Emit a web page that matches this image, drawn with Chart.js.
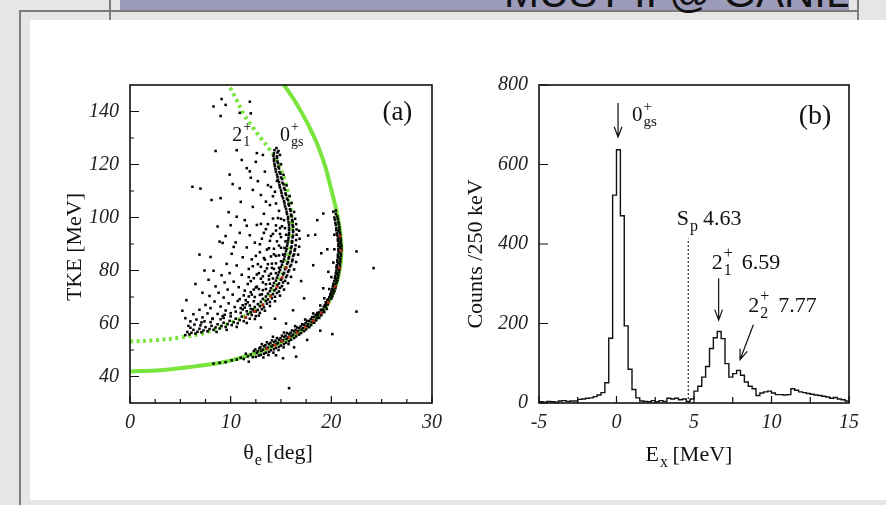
<!DOCTYPE html>
<html>
<head>
<meta charset="utf-8">
<script src="https://cdn.jsdelivr.net/npm/chart.js@4.4.0/dist/chart.umd.min.js"></script>
<style>
  body { margin: 0; width: 886px; height: 505px; overflow: hidden; position: relative; background: #e6e6e6; }
  .bar { position: absolute; left: 120px; top: 0; width: 729px; height: 10px; background: #9c9cba; }
  .heading { position: absolute; left: 504px; top: -28px; font: 42px/42px "Liberation Sans", Arial, sans-serif; color: #111; white-space: nowrap; }
  .rule { position: absolute; background: #7d7d7d; }
  .sheet { position: absolute; left: 30px; top: 20px; width: 856px; height: 480px; background: #fff; }
  canvas { position: absolute; top: 60px; }
  #panelA { left: 30px; }
  #panelB { left: 450px; }
</style>
</head>
<body>
<div class="bar"></div>
<div class="rule" style="left:19px;top:10px;width:840px;height:2px"></div>
<div class="rule" style="left:19px;top:10px;width:2px;height:495px"></div>
<div class="rule" style="left:109px;top:0;width:2px;height:20px"></div>
<div class="rule" style="left:857px;top:0;width:2px;height:20px"></div>
<div class="heading">MUST II @ GANIL</div>
<div class="sheet"></div>
<canvas id="panelA" width="420" height="420"></canvas>
<canvas id="panelB" width="430" height="420"></canvas>
<script>
const serif = '"Liberation Serif", "Times New Roman", serif';
const ink = '#111';
const green = 'rgb(122, 228, 62)';

// ---- (a) kinematics: theta_e [deg] vs TKE [MeV] ----
const thetaTicks = [0, 10, 20, 30];
const thetaMarks = [0, 2.5, 5, 7.5, 10, 12.5, 15, 17.5, 20, 22.5, 25, 27.5, 30];
const tkeTicks = [40, 60, 80, 100, 120, 140];
const tkeMarks = [40, 50, 60, 70, 80, 90, 100, 110, 120, 130, 140];

// kinematic lines
const gsLine = [[0, 41.9], [3, 42.4], [6, 43.6], [9, 45.2], [11, 47.0], [13, 49.6], [15, 52.9], [16.5, 56.1],
  [17.8, 59.5], [18.9, 63.5], [19.8, 68.5], [20.5, 75], [20.9, 82], [21.0, 88], [20.9, 94], [20.6, 101],
  [20.0, 110.4], [19.4, 119.2], [18.7, 126.7], [17.9, 133.5], [17.1, 139.3], [16.2, 145.0], [15.3, 150], [14.8, 152.5]];
const excitedLine = [[0, 53.2], [2.5, 53.7], [5, 54.7], [7.5, 56.6], [9.7, 59.8], [11.3, 62.6], [12.5, 65.5],
  [13.6, 69.5], [14.5, 74], [15.2, 79], [15.7, 85], [16.0, 90], [16.1, 95], [16.05, 100], [15.9, 105],
  [15.6, 111], [15.1, 117], [14.5, 122], [13.8, 126], [13.0, 130], [12.2, 134], [11.3, 139], [10.5, 145], [9.8, 150], [9.5, 152]];

// events on the 0+ ground-state band
const gsEvents = [
  [8.3, 44.9], [8.9, 45.2], [9.5, 45.4], [10.1, 46.1], [10.6, 46.4], [11.0, 47.1], [11.3, 46.6], [11.7, 47.6], [12.0, 48.3], [12.2, 47.3], [11.5, 48.6], [12.3, 49.6],
  [12.5, 47.4], [12.6, 48.9], [12.45, 50.2], [12.8, 47.9], [12.7, 49.5], [12.85, 50.6],
  [13.0, 48.2], [13.05, 49.7], [12.95, 51.0], [13.1, 52.2], [13.3, 48.6], [13.2, 50.1], [13.3, 51.4], [13.25, 47.2],
  [13.5, 49.0], [13.55, 50.6], [13.45, 51.8], [13.6, 52.9], [13.8, 49.3], [13.7, 50.9], [13.8, 52.2], [13.75, 48.1],
  [14.0, 49.9], [14.05, 51.3], [13.95, 52.6], [14.1, 53.6], [14.3, 50.3], [14.2, 51.8], [14.3, 53.0], [14.25, 49.0],
  [14.5, 50.8], [14.55, 52.3], [14.45, 53.5], [14.6, 54.5], [14.8, 51.2], [14.7, 52.7], [14.8, 53.9], [14.75, 50.0],
  [15.0, 51.7], [15.05, 53.2], [14.95, 54.4], [15.1, 55.4], [15.3, 52.2], [15.2, 53.7], [15.3, 54.9], [15.25, 51.0],
  [15.5, 52.8], [15.55, 54.2], [15.45, 55.4], [15.6, 56.4], [15.8, 53.3], [15.7, 54.7], [15.8, 55.9], [15.75, 52.2],
  [16.0, 53.9], [16.05, 55.3], [15.95, 56.5], [16.1, 57.4], [16.3, 54.5], [16.2, 55.8], [16.3, 57.0],
  [16.5, 55.1], [16.55, 56.4], [16.45, 57.6], [16.6, 58.5], [16.8, 55.8], [16.7, 57.1], [16.8, 58.2],
  [17.0, 56.4], [17.05, 57.7], [16.95, 58.9], [17.1, 59.7], [17.3, 57.1], [17.2, 58.3], [17.3, 59.5],
  [17.5, 57.8], [17.55, 59.0], [17.45, 60.2], [17.6, 61.0], [17.8, 58.6], [17.7, 59.7], [17.8, 60.9],
  [18.0, 59.4], [18.05, 60.5], [17.95, 61.7], [18.1, 62.4], [18.3, 60.3], [18.2, 61.3], [18.3, 62.5],
  [18.5, 61.2], [18.55, 62.2], [18.45, 63.3], [18.6, 64.0], [18.8, 62.1], [18.7, 63.1], [18.8, 64.2],
  [19.0, 63.1], [19.05, 64.1], [18.95, 65.2], [19.3, 64.3], [19.2, 65.2], [19.25, 66.3], [19.55, 65.5], [19.45, 66.4], [19.5, 67.5],
  [19.35, 67.0], [19.65, 67.2], [19.45, 68.0], [19.75, 68.3], [19.6, 68.8], [19.7, 69.1], [20.0, 69.4],
  [19.8, 70.0], [20.1, 70.2], [19.95, 70.7], [19.9, 71.1], [20.2, 71.3], [20.0, 72.0], [20.3, 72.2], [20.15, 72.7],
  [20.1, 73.0], [20.4, 73.3], [20.15, 74.0], [20.45, 74.2], [20.3, 74.7], [20.2, 75.0], [20.5, 75.3],
  [20.3, 76.0], [20.6, 76.2], [20.45, 76.7], [20.35, 77.1], [20.65, 77.3], [20.4, 78.0], [20.7, 78.2], [20.55, 78.8],
  [20.45, 79.1], [20.75, 79.3], [20.5, 80.0], [20.8, 80.3], [20.65, 80.8], [20.5, 81.2], [20.85, 81.4],
  [20.55, 82.0], [20.85, 82.3], [20.7, 82.8], [20.6, 83.2], [20.9, 83.4], [20.6, 84.0], [20.9, 84.3], [20.75, 84.8],
  [20.65, 85.2], [20.95, 85.4], [20.65, 86.0], [20.95, 86.3], [20.8, 86.8], [20.7, 87.2], [21.0, 87.4],
  [20.7, 88.0], [21.0, 88.3], [20.85, 88.8], [20.7, 89.2], [21.0, 89.4], [20.7, 90.0], [20.95, 90.3], [20.8, 90.8],
  [20.65, 91.2], [20.95, 91.4], [20.65, 92.0], [20.9, 92.3], [20.75, 92.8], [20.6, 93.2], [20.9, 93.4],
  [20.55, 94.0], [20.85, 94.3], [20.7, 94.8], [20.5, 95.2], [20.8, 95.4], [20.5, 96.0], [20.8, 96.3],
  [20.45, 97.2], [20.75, 97.4], [20.4, 98.0], [20.7, 98.3], [20.35, 99.2], [20.65, 99.4], [20.3, 100.0], [20.6, 100.4],
  [20.45, 101.3], [20.2, 102.2], [20.45, 102.6],
  [14.2, 55.0], [15.3, 56.6], [16.4, 59.0], [17.4, 61.5], [18.2, 63.8], [18.9, 66.8], [19.3, 69.5], [19.8, 73.0],
  [20.0, 77.5], [20.2, 83.0], [20.3, 88.0], [20.3, 93.5], [19.7, 79.5]
];

// events on the 2+ band
const excitedEvents = [
  [5.5, 55.6], [5.7, 56.8], [5.9, 55.9], [6.1, 56.5], [6.3, 57.6], [6.5, 56.2], [6.7, 56.9], [6.9, 58.0], [7.1, 56.7],
  [7.3, 57.4], [7.5, 58.6], [7.7, 57.1], [7.9, 57.9], [8.1, 59.1], [8.3, 57.6], [8.5, 58.5], [8.7, 59.7], [8.9, 58.1],
  [9.1, 59.1], [9.3, 60.3], [9.5, 58.7], [9.7, 59.8], [9.9, 61.0], [10.1, 59.4], [10.3, 60.5], [10.5, 61.8], [10.7, 60.1],
  [10.9, 61.3], [11.1, 62.6], [11.3, 60.9], [11.5, 62.2], [11.7, 63.5], [11.9, 61.8], [12.1, 63.2], [12.3, 64.6], [12.5, 62.8],
  [6.0, 58.4], [7.0, 59.3], [8.0, 60.5], [9.0, 61.6], [10.0, 62.7], [11.0, 64.0], [12.0, 65.5], [8.6, 56.8], [9.6, 57.6],
  [10.6, 58.7], [11.6, 60.2], [12.4, 61.7], [7.4, 60.8], [9.4, 63.3], [11.4, 66.0],
  [12.0, 64.2], [12.5, 64.5], [12.9, 64.0], [11.6, 64.6], [12.2, 65.3], [12.7, 65.1], [13.1, 65.4],
  [12.4, 66.2], [12.9, 66.5], [13.3, 66.1], [11.9, 66.8], [12.7, 67.3], [13.2, 67.1], [13.6, 67.5],
  [13.0, 68.2], [13.5, 68.5], [13.9, 68.1], [12.3, 68.4], [13.2, 69.3], [13.7, 69.1], [14.1, 69.5],
  [13.5, 70.2], [14.0, 70.5], [14.4, 70.1], [12.9, 70.8], [13.7, 71.3], [14.2, 71.1], [14.6, 71.5],
  [13.9, 72.2], [14.35, 72.5], [14.8, 72.1], [13.2, 72.6], [14.0, 73.3], [14.5, 73.1], [14.9, 73.5],
  [14.2, 74.2], [14.65, 74.5], [15.1, 74.1], [13.5, 74.8], [14.3, 75.3], [14.8, 75.1], [15.2, 75.5],
  [14.5, 76.2], [15.0, 76.5], [15.4, 76.1], [13.8, 76.6], [14.6, 77.3], [15.1, 77.1], [15.5, 77.5],
  [14.7, 78.2], [15.2, 78.5], [15.6, 78.1], [14.0, 78.8], [14.8, 79.3], [15.3, 79.1], [15.7, 79.5],
  [14.9, 80.2], [15.4, 80.5], [15.8, 80.1], [14.3, 80.6], [15.0, 81.3], [15.5, 81.1], [15.9, 81.5],
  [15.1, 82.2], [15.6, 82.5], [16.0, 82.1], [14.5, 82.7], [15.2, 83.3], [15.7, 83.1], [16.1, 83.5],
  [15.3, 84.2], [15.75, 84.5], [16.15, 84.1], [15.35, 85.3], [15.8, 85.1], [16.2, 85.5], [14.8, 85.7],
  [15.4, 86.2], [15.9, 86.5], [16.3, 86.1], [15.5, 87.3], [15.95, 87.1], [16.35, 87.5],
  [15.55, 88.2], [16.0, 88.5], [16.4, 88.1], [15.0, 88.6],
  [15.6, 89.3], [16.05, 89.1], [16.45, 89.5], [15.65, 90.2], [16.1, 90.5], [15.7, 91.3], [16.1, 91.1], [16.5, 91.5],
  [15.75, 92.2], [16.15, 92.5], [15.75, 93.3], [16.2, 93.1], [16.55, 93.5], [15.8, 94.2], [16.2, 94.5],
  [15.8, 95.3], [16.2, 95.1], [16.55, 95.5], [15.8, 96.2], [16.2, 96.5], [15.8, 97.3], [16.15, 97.1], [16.5, 97.5],
  [15.75, 98.2], [16.15, 98.5], [15.7, 99.3], [16.1, 99.1], [16.4, 99.5], [15.7, 100.2], [16.05, 100.5],
  [15.6, 101.3], [16.0, 101.1], [15.55, 102.2], [15.95, 102.5], [16.3, 102.1], [15.5, 103.3], [15.9, 103.1],
  [15.4, 104.2], [15.8, 104.5], [15.35, 105.3], [15.75, 105.1], [16.05, 105.5], [15.3, 106.2], [15.7, 106.5],
  [15.2, 107.3], [15.6, 107.1], [15.1, 108.2], [15.5, 108.5], [15.85, 108.1], [15.05, 109.3], [15.45, 109.1],
  [15.0, 110.2], [15.4, 110.5], [14.9, 111.3], [15.3, 111.1], [14.85, 112.2], [15.25, 112.5], [15.55, 112.1],
  [14.8, 113.3], [15.15, 113.1], [14.7, 114.2], [15.1, 114.5], [14.65, 115.3], [15.0, 115.1],
  [14.6, 116.2], [14.95, 116.5], [15.25, 116.1], [14.5, 117.3], [14.85, 117.1], [14.45, 118.2], [14.8, 118.5],
  [14.4, 119.3], [14.75, 119.1], [14.35, 120.2], [14.7, 120.5], [15.0, 120.1], [14.3, 121.3], [14.65, 121.1],
  [14.3, 122.2], [14.6, 122.5], [14.25, 123.3], [14.6, 123.1], [14.9, 123.6], [14.3, 124.2], [14.65, 124.5],
  [14.35, 125.4], [14.75, 125.1], [14.55, 126.2],
  [12.8, 63.0], [13.4, 64.8], [13.9, 66.6], [14.4, 68.4], [14.9, 70.5], [15.3, 72.8], [15.7, 75.2], [16.0, 77.6],
  [16.3, 80.4], [16.5, 83.2], [16.7, 86.0], [16.8, 89.0], [16.85, 92.0], [16.8, 95.0],
  [11.5, 68.8], [12.1, 70.9], [12.6, 73.9], [13.0, 76.9], [13.4, 79.7], [13.7, 82.4], [14.0, 85.3], [14.3, 88.2],
  [14.6, 91.0], [14.9, 93.8], [15.1, 96.7], [15.0, 99.5], [14.8, 102.5], [14.5, 105.3], [14.2, 108.0],
  [10.5, 64.5], [11.2, 65.3], [9.3, 62.1], [8.2, 61.7], [7.1, 60.4], [6.4, 59.6], [5.8, 59.1],
  [13.1, 71.0], [13.5, 73.0], [13.9, 75.0], [14.2, 77.0], [14.5, 79.0], [14.8, 81.0], [15.0, 83.5], [15.2, 86.0],
  [15.35, 88.5], [15.45, 91.0], [15.5, 93.5], [15.4, 96.0], [15.3, 99.0]
];

// diffuse events inside the 2+ band
const cloudEvents = [
  [5.5, 62.0], [5.2, 64.8], [6.0, 60.8], [6.3, 63.5], [6.6, 61.5], [6.9, 65.2], [7.2, 62.3], [7.5, 67.0], [7.7, 63.8],
  [7.9, 70.4], [8.0, 65.8], [8.2, 61.9], [8.4, 68.3], [8.5, 74.0], [8.7, 63.6], [8.8, 71.6], [9.0, 66.4], [9.1, 78.2],
  [9.2, 62.8], [9.3, 69.8], [9.4, 75.5], [9.5, 64.9], [9.6, 82.5], [9.7, 72.8], [9.8, 67.6], [9.9, 79.0], [10.0, 63.9],
  [10.1, 86.3], [10.2, 70.9], [10.3, 75.8], [10.4, 66.2], [10.5, 90.6], [10.6, 81.9], [10.7, 68.5], [10.8, 73.7],
  [10.9, 94.2], [11.0, 65.8], [11.1, 78.4], [11.2, 85.0], [11.3, 70.6], [11.4, 99.0], [11.5, 67.3], [11.6, 88.7],
  [11.7, 74.9], [11.8, 80.6], [11.9, 93.3], [12.0, 71.8], [12.1, 84.2], [12.2, 104.0], [12.3, 77.1], [12.4, 90.5],
  [12.5, 73.6], [12.6, 97.2], [12.7, 82.4], [12.8, 79.0], [12.9, 86.9], [13.0, 108.5], [13.1, 92.0], [13.2, 77.8],
  [13.3, 101.4], [13.4, 84.1], [13.5, 95.6], [13.6, 80.8], [13.7, 112.2], [13.8, 88.4], [13.9, 104.7], [14.0, 93.0],
  [14.1, 82.6], [14.2, 99.6], [14.3, 86.1], [14.4, 109.7], [14.5, 95.1],
  [8.9, 90.9], [9.2, 90.4], [9.5, 93.0], [8.3, 79.9], [7.8, 76.5], [8.0, 85.1], [10.0, 97.1], [10.3, 88.9], [11.0, 105.9],
  [10.2, 112.6], [9.9, 116.2], [10.9, 111.0], [12.0, 115.0], [11.6, 118.6], [12.7, 113.7], [13.4, 117.3], [12.5, 121.0],
  [13.2, 123.6], [9.0, 107.3], [8.1, 106.6], [7.0, 110.9], [6.2, 111.6], [6.5, 74.9], [5.6, 68.8], [7.2, 71.6], [7.4, 80.0],
  [8.7, 96.6], [9.8, 102.0], [11.6, 96.9], [12.2, 110.4], [10.6, 100.3], [6.9, 86.0],
  [11.2, 66.9], [11.8, 70.2], [12.3, 72.8], [12.0, 76.0], [12.6, 78.5], [13.0, 81.4], [13.3, 84.7], [13.6, 87.9],
  [13.9, 91.2], [14.2, 93.8], [14.5, 97.0], [14.7, 99.8], [14.9, 96.0], [15.0, 92.6], [14.8, 89.4], [14.5, 85.5],
  [14.1, 81.0], [13.8, 78.0], [13.2, 75.5], [12.8, 73.0], [12.4, 70.0], [11.7, 68.0], [10.9, 69.2], [11.4, 72.4],
  [11.8, 77.5], [12.2, 81.6], [12.5, 85.5], [12.9, 89.9], [13.3, 94.2], [13.7, 97.5], [13.5, 106.0], [14.0, 111.5],
  [14.6, 113.8], [13.0, 97.6],
  [8.3, 141.9], [9.1, 144.7], [9.5, 142.5], [9.0, 138.3], [10.9, 139.5], [11.9, 143.7], [12.0, 139.3], [8.5, 125.1],
  [11.1, 121.7], [11.9, 117.4], [10.6, 125.4], [12.6, 124.3]
];

// events off both bands
const strayEvents = [
  [22.5, 87.2], [24.2, 80.9], [22.5, 64.5], [15.8, 35.6], [16.5, 47.5], [15.2, 46.9], [17.7, 93.2], [18.4, 93.5],
  [19.0, 86.5], [19.2, 73.3], [17.0, 76.0], [17.3, 69.5], [14.4, 61.8], [16.2, 65.0], [18.2, 82.0], [19.6, 88.0],
  [18.6, 99.0], [19.2, 101.5], [20.1, 56.0], [18.9, 57.3], [14.5, 48.0], [16.3, 51.0], [11.8, 45.6], [17.6, 53.8],
  [13.0, 58.5], [15.5, 60.0]
];

// highest-density cells
const denseEvents = [
  [13.6, 50.4], [14.4, 51.8], [15.1, 53.3], [15.8, 54.7], [16.6, 56.5], [17.4, 58.6], [18.2, 61.0], [19.0, 64.0],
  [19.7, 68.0], [20.4, 74.0], [20.8, 81.0], [20.95, 87.5], [20.85, 93.0],
  [11.5, 62.3], [12.4, 64.6], [13.2, 67.0], [14.0, 70.2], [14.6, 73.8], [15.1, 77.3], [15.5, 81.0]
];

// ---- (b) excitation energy spectrum, 250 keV bins from -5 MeV ----
const binStart = -5;
const binWidth = 0.25;
const counts = [
  3, 2, 4, 3, 2, 5, 6, 4, 5, 5,
  9, 10, 12, 13, 16, 20, 26, 51, 163, 523,
  637, 471, 194, 85, 34, 13, 5, 4, 3, 6,
  3, 6, 4, 12, 10, 12, 8, 10, 4, 10,
  30, 42, 65, 92, 137, 164, 180, 162, 99, 65,
  74, 82, 70, 53, 42, 36, 19, 25, 28, 30,
  25, 21, 21, 20, 21, 36, 32, 28, 26, 24,
  22, 20, 19, 17, 15, 12, 14, 10, 8, 5
];
const spEnergy = 4.63;
const spLineTop = 414;
const exTicks = [-5, 0, 5, 10, 15];
const exMarks = [-5, -2.5, 0, 2.5, 5, 7.5, 10, 12.5, 15];
const countTicks = [0, 200, 400, 600, 800];

const toXY = pairs => pairs.map(([x, y]) => ({ x, y }));

function richText(ctx, parts, x, y, size, align) {
  const big = size + 'px ' + serif;
  const small = Math.round(size * 0.72) + 'px ' + serif;
  ctx.textAlign = 'left';
  const widths = parts.map(p => { ctx.font = p.sub || p.sup ? small : big; return ctx.measureText(p.t).width; });
  let total = 0;
  parts.forEach((p, i) => { if (!p.stack) total += widths[i]; });
  let cx = align === 'center' ? x - total / 2 : x;
  let prev = cx;
  parts.forEach((p, i) => {
    ctx.font = p.sub || p.sup ? small : big;
    const dx = p.stack ? prev : cx + (p.sub || p.sup ? 1 : 0);
    const dy = p.sub ? y + size * 0.27 : p.sup ? y - size * 0.48 : y;
    ctx.fillText(p.t, dx, dy);
    if (!p.stack) { prev = dx; cx += widths[i]; }
  });
}

function arrow(ctx, x1, y1, x2, y2) {
  const ang = Math.atan2(y2 - y1, x2 - x1);
  const head = 11;
  ctx.beginPath();
  ctx.moveTo(x1, y1);
  ctx.lineTo(x2, y2);
  ctx.moveTo(x2 - head * Math.cos(ang - 0.36), y2 - head * Math.sin(ang - 0.36));
  ctx.lineTo(x2, y2);
  ctx.lineTo(x2 - head * Math.cos(ang + 0.36), y2 - head * Math.sin(ang + 0.36));
  ctx.stroke();
}

// frame plus inward tick marks, ROOT style
const frameTicks = {
  id: 'frameTicks',
  afterDatasetsDraw(chart, args, opts) {
    const { ctx, chartArea: a } = chart;
    const { x, y } = chart.scales;
    ctx.save();
    ctx.strokeStyle = ink;
    ctx.lineWidth = 1.2;
    ctx.beginPath();
    opts.xMarks.forEach(v => {
      const px = x.getPixelForValue(v);
      const len = opts.xTicks.includes(v) ? opts.major : opts.minor;
      ctx.moveTo(px, a.bottom);
      ctx.lineTo(px, a.bottom - len);
    });
    opts.yMarks.forEach(v => {
      const py = y.getPixelForValue(v);
      const len = opts.yTicks.includes(v) ? opts.major + 2 : opts.minor;
      ctx.moveTo(a.left, py);
      ctx.lineTo(a.left + len, py);
    });
    ctx.stroke();
    ctx.lineWidth = 1.6;
    ctx.strokeRect(a.left, a.top, a.right - a.left, a.bottom - a.top);
    ctx.restore();
  }
};

function axisOptions(min, max, tickList, size, pad) {
  return {
    type: 'linear', min, max,
    afterFit: s => { if (s.isHorizontal()) s.height = size; else s.width = size; },
    afterBuildTicks: s => { s.ticks = tickList.map(v => ({ value: v })); },
    grid: { display: false, drawTicks: false },
    border: { display: false },
    ticks: { autoSkip: false, maxRotation: 0, padding: pad, color: '#222', font: { family: serif, style: 'italic', size: 20 } }
  };
}

const panelALabels = {
  id: 'panelALabels',
  afterDraw(chart) {
    const { ctx, chartArea: a } = chart;
    const { x, y } = chart.scales;
    ctx.save();
    ctx.fillStyle = ink;
    ctx.textBaseline = 'alphabetic';
    richText(ctx, [{ t: '2' }, { t: '1', sub: true }, { t: '+', sup: true, stack: true }], x.getPixelForValue(10.16), y.getPixelForValue(129), 20);
    richText(ctx, [{ t: '0' }, { t: 'gs', sub: true }, { t: '+', sup: true, stack: true }], x.getPixelForValue(14.9), y.getPixelForValue(129), 20);
    ctx.font = '27px ' + serif;
    ctx.textAlign = 'center';
    ctx.fillText('(a)', x.getPixelForValue(26.56), y.getPixelForValue(136.8));
    richText(ctx, [{ t: 'θ' }, { t: 'e', sub: true }, { t: ' [deg]' }], (a.left + a.right) / 2 - 3, a.bottom + 56, 22, 'center');
    ctx.translate(a.left - 49, (a.top + a.bottom) / 2 + 3);
    ctx.rotate(-Math.PI / 2);
    richText(ctx, [{ t: 'TKE [MeV]' }], 0, 0, 22, 'center');
    ctx.restore();
  }
};

const panelBLabels = {
  id: 'panelBLabels',
  afterDraw(chart) {
    const { ctx, chartArea: a } = chart;
    const { x, y } = chart.scales;
    const X = v => x.getPixelForValue(v);
    const Y = v => y.getPixelForValue(v);
    ctx.save();
    ctx.fillStyle = ink;
    ctx.strokeStyle = ink;
    ctx.lineWidth = 1.2;
    ctx.textBaseline = 'alphabetic';
    arrow(ctx, X(0.1), Y(755), X(0.1), Y(669));
    richText(ctx, [{ t: '0' }, { t: 'gs', sub: true }, { t: '+', sup: true, stack: true }], X(1.0), Y(710), 21);
    richText(ctx, [{ t: 'S' }, { t: 'p', sub: true }], X(3.88), Y(448), 22);
    ctx.font = '22px ' + serif;
    ctx.fillText(spEnergy.toFixed(2), X(5.58), Y(448));
    richText(ctx, [{ t: '2' }, { t: '1', sub: true }, { t: '+', sup: true, stack: true }], X(6.14), Y(337), 22);
    ctx.font = '22px ' + serif;
    ctx.fillText('6.59', X(8.08), Y(337));
    arrow(ctx, X(6.59), Y(314), X(6.59), Y(209));
    richText(ctx, [{ t: '2' }, { t: '2', sub: true }, { t: '+', sup: true, stack: true }], X(8.5), Y(230), 22);
    ctx.font = '22px ' + serif;
    ctx.fillText('7.77', X(10.44), Y(230));
    arrow(ctx, X(8.83), Y(197), X(7.97), Y(109));
    ctx.font = '28px ' + serif;
    ctx.textAlign = 'center';
    ctx.fillText('(b)', X(12.81), Y(703));
    richText(ctx, [{ t: 'E' }, { t: 'x', sub: true }, { t: ' [MeV]' }], (a.left + a.right) / 2 - 5, a.bottom + 58, 22, 'center');
    ctx.translate(a.left - 57, (a.top + a.bottom) / 2 + 10);
    ctx.rotate(-Math.PI / 2);
    richText(ctx, [{ t: 'Counts /250 keV' }], 0, 0, 22, 'center');
    ctx.restore();
  }
};

new Chart(document.getElementById('panelA'), {
  type: 'scatter',
  data: {
    datasets: [
      { data: toXY(gsLine), showLine: true, borderColor: green, borderWidth: 4, pointRadius: 0, tension: 0.35, clip: 0, order: 3 },
      { data: toXY(excitedLine), showLine: true, borderColor: green, borderWidth: 4, borderDash: [3, 3.5], pointRadius: 0, tension: 0.35, clip: 0, order: 3 },
      { data: toXY([...gsEvents, ...excitedEvents, ...cloudEvents, ...strayEvents]), pointStyle: 'rect', pointRadius: 1.8, backgroundColor: '#000', borderWidth: 0, order: 2 },
      { data: toXY(denseEvents), pointStyle: 'rect', pointRadius: 2, backgroundColor: 'rgba(200, 45, 30, 0.9)', borderWidth: 0, order: 1 }
    ]
  },
  options: {
    responsive: false,
    animation: false,
    devicePixelRatio: 1,
    layout: { padding: { top: 25, right: 10, left: 0, bottom: 0 } },
    plugins: {
      legend: { display: false },
      tooltip: { enabled: false },
      frameTicks: { xTicks: thetaTicks, xMarks: thetaMarks, yTicks: tkeTicks, yMarks: tkeMarks, major: 7, minor: 4 }
    },
    scales: {
      x: axisOptions(0, 30, thetaTicks, 77, 8),
      y: axisOptions(30, 150, tkeTicks, 100, 11)
    }
  },
  plugins: [frameTicks, panelALabels]
});

const histogram = counts.map((c, i) => ({ x: binStart + i * binWidth, y: c }));
histogram.push({ x: binStart + counts.length * binWidth, y: counts[counts.length - 1] });

new Chart(document.getElementById('panelB'), {
  type: 'scatter',
  data: {
    datasets: [
      { data: histogram, showLine: true, stepped: true, borderColor: ink, borderWidth: 1.4, pointRadius: 0, clip: 0 },
      { data: [{ x: spEnergy, y: 0 }, { x: spEnergy, y: spLineTop }], showLine: true, borderColor: '#333', borderWidth: 1.2, borderDash: [2, 2], pointRadius: 0 }
    ]
  },
  options: {
    responsive: false,
    animation: false,
    devicePixelRatio: 1,
    layout: { padding: { top: 25, right: 31, left: 0, bottom: 0 } },
    plugins: {
      legend: { display: false },
      tooltip: { enabled: false },
      frameTicks: { xTicks: exTicks, xMarks: exMarks, yTicks: countTicks, yMarks: countTicks, major: 7, minor: 6 }
    },
    scales: {
      x: axisOptions(-5, 15, exTicks, 77, 8),
      y: axisOptions(0, 800, countTicks, 89, 11)
    }
  },
  plugins: [frameTicks, panelBLabels]
});
</script>
</body>
</html>
